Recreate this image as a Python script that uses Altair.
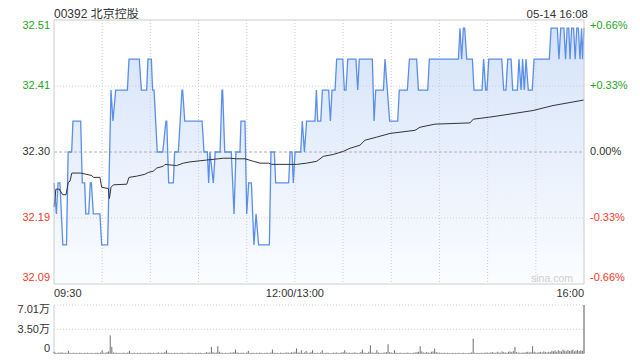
import altair as alt
import pandas as pd

# ---------------- data ----------------
prev_close = 32.30
price_t = [0, 1.5, 2.5, 3.7, 5.5, 7.8, 8.8, 11, 11.8, 16.6,
           17.6, 19.1, 19.8, 21.6, 22.6, 23.3, 24.5, 28.6, 29.7, 33.4,
           35.5, 36.7, 38.4, 45.7, 46.7, 53.1, 54.4, 57.7, 58.5, 60.6,
           61.4, 62.3, 64.3, 67.7, 69.7, 70.2, 71.4, 74.3, 75.1, 77.4,
           79.7, 80.1, 81.4, 92.2, 93.4, 95.5, 96.3, 97.1, 99.2, 100.4,
           103.4, 104.6, 105, 106.3, 110.4, 112.1, 113.3, 115.8, 116.4, 118.9,
           120, 121.2, 122.9, 124.5, 125.8, 127.4, 134.1, 135.1, 137.2, 138,
           146.1, 147, 148.2, 149, 150.1, 153.6, 154.6, 155.9, 157.3, 162.5,
           163.4, 164.2, 166.1, 167.1, 171, 172.1, 173.1, 175, 176, 179.8,
           180.8, 181.8, 182.9, 188, 189.1, 190.1, 198.2, 199.3, 200.3, 205.1,
           206.1, 209, 214, 215, 220, 221.3, 225.8, 226.9, 232.7, 233.7,
           251.8, 252.8, 253.8, 254.9, 255.7, 257, 260.5, 261.5, 266.5, 267.5,
           268.8, 269.6, 270.7, 278.8, 280, 281.4, 282.5, 284.6, 285.6, 288.5,
           289.5, 290.8, 291.8, 292.8, 293.9, 295.3, 297.8, 298.9, 308.4, 309.5,
           313.4, 314.4, 315.5, 317.5, 318.5, 319.5, 320.5, 321.3, 322.3, 323.5,
           324.5, 325.5, 326.5, 327.5, 328.5, 329.1, 330]
price_v = [32.25, 32.20, 32.25, 32.25, 32.15, 32.15, 32.30, 32.30, 32.35, 32.35,
           32.25, 32.25, 32.20, 32.20, 32.25, 32.25, 32.20, 32.20, 32.15, 32.15,
           32.40, 32.35, 32.40, 32.40, 32.45, 32.45, 32.40, 32.40, 32.45, 32.45,
           32.40, 32.40, 32.30, 32.30, 32.35, 32.35, 32.25, 32.25, 32.30, 32.30,
           32.40, 32.40, 32.35, 32.35, 32.30, 32.30, 32.25, 32.30, 32.25, 32.30,
           32.30, 32.40, 32.40, 32.30, 32.30, 32.20, 32.30, 32.30, 32.35, 32.35,
           32.20, 32.25, 32.25, 32.15, 32.20, 32.15, 32.15, 32.30, 32.30, 32.25,
           32.25, 32.30, 32.30, 32.25, 32.30, 32.30, 32.35, 32.30, 32.35, 32.35,
           32.40, 32.35, 32.35, 32.40, 32.40, 32.35, 32.40, 32.40, 32.45, 32.45,
           32.40, 32.40, 32.45, 32.45, 32.40, 32.45, 32.45, 32.35, 32.40, 32.40,
           32.45, 32.35, 32.35, 32.40, 32.40, 32.45, 32.45, 32.40, 32.40, 32.45,
           32.45, 32.50, 32.45, 32.50, 32.50, 32.45, 32.45, 32.40, 32.40, 32.45,
           32.40, 32.40, 32.45, 32.45, 32.40, 32.40, 32.45, 32.45, 32.40, 32.40,
           32.45, 32.40, 32.45, 32.40, 32.45, 32.40, 32.40, 32.45, 32.45, 32.50,
           32.50, 32.45, 32.50, 32.50, 32.45, 32.50, 32.50, 32.45, 32.50, 32.50,
           32.45, 32.50, 32.50, 32.45, 32.50, 32.45, 32.50]

avg_t = [0, 1.2, 3.3, 5.4, 7.5, 8.9, 10, 11.1, 16.6, 23.5,
         24.5, 28.6, 29.7, 33.8, 34.5, 35.5, 37, 45.3, 46.7, 51.5,
         56.6, 58.7, 61.8, 63.9, 68, 69.1, 76.3, 80.5, 84.6, 95,
         102.3, 105.4, 109.5, 113.7, 119, 124.1, 128.3, 133.5, 135.5, 151.1,
         157.3, 163.6, 167.7, 173.9, 180.1, 184.3, 190.5, 193.6, 200.9, 209.2,
         215.4, 224.8, 227.9, 237.2, 259, 261.1, 270.4, 280.8, 298.3, 310.7, 330]
avg_v = [32.211, 32.240, 32.240, 32.231, 32.231, 32.251, 32.253, 32.266, 32.266, 32.262,
         32.259, 32.259, 32.243, 32.241, 32.225, 32.243, 32.247, 32.248, 32.259, 32.261,
         32.264, 32.267, 32.269, 32.274, 32.277, 32.280, 32.278, 32.282, 32.284, 32.287,
         32.289, 32.290, 32.290, 32.289, 32.289, 32.285, 32.282, 32.282, 32.280, 32.280,
         32.282, 32.285, 32.293, 32.296, 32.301, 32.306, 32.311, 32.319, 32.324, 32.330,
         32.332, 32.335, 32.340, 32.345, 32.347, 32.353, 32.356, 32.360, 32.367, 32.375, 32.384]

# volume per minute, in 万 shares (minute 0 .. 330)
vol_wan = [
    0.25, 0.12, 0.08, 0.15, 0.10, 0.18, 0.08, 0.12, 0.10, 0.39, 0.10, 0.06, 0.12, 0.08, 0.10, 0.05, 0.12, 0.08, 0.06, 0.10, 0.08, 0.12, 0.05, 0.10, 0.08, 0.06, 0.10, 0.12, 0.08, 0.15,
    0.48, 0.12, 0.10, 0.20, 0.30, 2.62, 0.95, 0.15, 0.10, 0.12, 0.08, 0.10, 0.06, 0.12, 0.10, 0.08, 0.15, 0.38, 0.10, 0.08, 0.12, 0.06, 0.10, 0.08, 0.12, 0.05, 0.10, 0.08, 0.06, 0.12,
    0.10, 0.08, 0.12, 0.06, 0.10, 0.15, 0.08, 0.12, 0.10, 0.20, 0.48, 0.12, 0.08, 0.10, 0.06, 0.12, 0.08, 0.10, 0.05, 0.12, 0.10, 0.08, 0.06, 0.10, 0.12, 0.08, 0.10, 0.06, 0.12, 0.08,
    0.10, 0.12, 0.08, 0.06, 0.10, 0.20, 0.12, 0.15, 0.95, 0.20, 0.10, 0.15, 1.05, 0.25, 0.12, 0.10, 0.08, 0.12, 0.06, 0.10, 0.15, 0.12, 0.20, 0.57, 0.15, 0.10, 0.08, 0.12, 0.10, 0.06,
    0.15, 0.38, 0.10, 0.08, 0.12, 0.06, 0.10, 0.08, 0.12, 0.10, 0.06, 0.08, 0.12, 0.10, 0.08, 0.15, 0.57, 0.12, 0.08, 0.10, 0.06, 0.12, 0.10, 0.08, 0.12, 0.15, 0.10, 0.08, 0.20, 0.12,
    0.25, 0.72, 0.15, 0.12, 0.48, 0.10, 0.15, 0.38, 0.12, 0.10, 0.20, 0.48, 0.10, 0.08, 0.12, 0.06, 0.15, 0.48, 0.10, 0.08, 0.12, 0.10, 0.06, 0.08, 0.12, 0.10, 0.15, 0.08, 0.10, 0.12,
    0.20, 0.48, 0.15, 0.10, 0.12, 0.08, 0.10, 0.15, 0.12, 0.08, 0.10, 0.20, 0.57, 0.12, 0.10, 0.08, 0.25, 1.19, 0.15, 0.10, 0.12, 0.48, 0.15, 0.10, 0.08, 0.12, 0.15, 0.20, 1.34, 0.20,
    0.15, 0.10, 0.48, 0.12, 0.08, 0.10, 0.12, 0.06, 0.10, 0.08, 0.12, 0.10, 0.06, 0.08, 0.12, 0.15, 0.20, 0.25, 1.05, 0.30, 0.15, 0.12, 0.20, 0.15, 0.10, 0.25, 0.30, 0.72, 0.20, 0.15,
    0.12, 0.10, 0.08, 0.12, 0.06, 0.10, 0.08, 0.05, 0.10, 0.06, 0.08, 0.05, 0.10, 0.06, 0.08, 0.10, 0.06, 0.05, 0.08, 0.10, 0.15, 2.15, 0.12, 0.08, 0.10, 0.06, 0.12, 0.08, 0.10, 0.15,
    0.12, 0.10, 0.15, 0.20, 0.12, 0.10, 0.25, 0.15, 0.12, 0.30, 0.20, 0.15, 0.10, 0.25, 0.30, 0.20, 0.35, 0.95, 0.20, 0.15, 0.12, 0.10, 0.15, 0.12, 0.20, 0.25, 0.15, 0.20, 1.05, 0.25,
    0.15, 0.12, 0.20, 0.25, 0.15, 0.30, 0.20, 0.15, 0.25, 0.20, 0.40, 0.30, 0.45, 0.25, 0.50, 0.35, 0.30, 0.55, 0.40, 0.30, 0.50, 0.35, 0.45, 0.55, 0.30, 0.40, 0.50, 0.35, 0.45, 0.40,
    7.01,
]

pct_ticks = [-0.0066, -0.0033, 0.0, 0.0033, 0.0066]
price_labels = ["32.09", "32.19", "32.30", "32.41", "32.51"]
pct_labels = ["-0.66%", "-0.33%", "0.00%", "+0.33%", "+0.66%"]
vol_ticks = [0, 3.505, 7.01]
vol_labels = ["0", "3.50万", "7.01万"]
time_labels = ["09:30", "12:00/13:00", "16:00"]
time_ticks = [0, 150, 330]
grid_minutes = [30, 60, 90, 120, 150, 180, 210, 240, 270, 300]
title_text = "00392 北京控股"
date_text = "05-14 16:08"
watermark = "sina.com"

# ---------------- styling ----------------
W = 530
MAIN_H = 264
VOL_TOP, VOL_BOT = 285, 333.5
H = 334
FONT = "Liberation Sans, Arial, Noto Sans CJK SC"
GREEN = "#1ea51e"
RED = "#f03a2e"
DARK = "#333333"
GRID = "#cccccc"

LO = prev_close * (1 + pct_ticks[0])
HI = prev_close * (1 + pct_ticks[-1])
price_ticks = [prev_close * (1 + p) for p in pct_ticks]
tick_colors = [RED, RED, DARK, GREEN, GREEN]

xs = alt.Scale(domain=[0, 330], nice=False, zero=False)
ps = alt.Scale(domain=[LO, HI], range=[MAIN_H, 0], nice=False, zero=False)
vs = alt.Scale(domain=[0, 7.01], range=[VOL_BOT, VOL_TOP], nice=False, zero=False)

price_df = pd.DataFrame({"t": price_t, "p": price_v, "base": [LO] * len(price_t)})
avg_df = pd.DataFrame({"t": avg_t, "p": avg_v})
vol_df = pd.DataFrame({"t": list(range(len(vol_wan))), "v": vol_wan, "v0": [0.0] * len(vol_wan)})

layers = []

# area under price line
layers.append(
    alt.Chart(price_df).mark_area(
        color=alt.Gradient(
            gradient="linear",
            stops=[alt.GradientStop(color="#d5e3f9", offset=0),
                   alt.GradientStop(color="#fbfdff", offset=1)],
            x1=1, x2=1, y1=0, y2=1),
        interpolate="linear",
    ).encode(
        x=alt.X("t:Q", scale=xs, axis=None),
        y=alt.Y("p:Q", scale=ps, axis=None),
        y2="base:Q",
    )
)

# vertical gridlines (main panel)
layers.append(
    alt.Chart(pd.DataFrame({"t": grid_minutes})).mark_rule(
        color=GRID, strokeDash=[1, 2], strokeWidth=1
    ).encode(x=alt.X("t:Q", scale=xs, axis=None), y=alt.value(0), y2=alt.value(MAIN_H))
)

# horizontal gridlines (main panel)
layers.append(
    alt.Chart(pd.DataFrame({"p": [price_ticks[1], price_ticks[3]]})).mark_rule(
        color=GRID, strokeDash=[1, 2], strokeWidth=1
    ).encode(y=alt.Y("p:Q", scale=ps, axis=None), x=alt.value(0), x2=alt.value(W))
)
layers.append(
    alt.Chart(pd.DataFrame({"p": [price_ticks[2]]})).mark_rule(
        color="#b0b0b0", strokeDash=[3, 2], strokeWidth=1
    ).encode(y=alt.Y("p:Q", scale=ps, axis=None), x=alt.value(0), x2=alt.value(W))
)

# price line
layers.append(
    alt.Chart(price_df).mark_line(color="#5a8ee9", strokeWidth=1.3, interpolate="linear").encode(
        x=alt.X("t:Q", scale=xs, axis=None),
        y=alt.Y("p:Q", scale=ps, axis=None),
    )
)

# average line
layers.append(
    alt.Chart(avg_df).mark_line(color="#333333", strokeWidth=1).encode(
        x=alt.X("t:Q", scale=xs, axis=None),
        y=alt.Y("p:Q", scale=ps, axis=None),
    )
)

# main frame
layers.append(
    alt.Chart(pd.DataFrame({"a": [0]})).mark_rect(filled=False, stroke=GRID, strokeWidth=1).encode(
        x=alt.value(0), x2=alt.value(W), y=alt.value(0), y2=alt.value(MAIN_H)
    )
)

# volume gridlines
layers.append(
    alt.Chart(pd.DataFrame({"v": [vol_ticks[1], vol_ticks[2]]})).mark_rule(
        color=GRID, strokeDash=[1, 2], strokeWidth=1
    ).encode(y=alt.Y("v:Q", scale=vs, axis=None), x=alt.value(0), x2=alt.value(W))
)
# volume frame (left, right, bottom)
layers.append(
    alt.Chart(pd.DataFrame({"a": [0]})).mark_rule(color=GRID, strokeWidth=1).encode(
        x=alt.value(0), y=alt.value(VOL_TOP), y2=alt.value(VOL_BOT)
    )
)
layers.append(
    alt.Chart(pd.DataFrame({"a": [0]})).mark_rule(color=GRID, strokeWidth=1).encode(
        x=alt.value(W), y=alt.value(VOL_TOP), y2=alt.value(VOL_BOT)
    )
)
layers.append(
    alt.Chart(pd.DataFrame({"a": [0]})).mark_rule(color=GRID, strokeWidth=1).encode(
        x=alt.value(0), x2=alt.value(W), y=alt.value(VOL_BOT)
    )
)

# volume bars
layers.append(
    alt.Chart(vol_df).mark_rule(color="#707070", strokeWidth=1).encode(
        x=alt.X("t:Q", scale=xs, axis=None),
        y=alt.Y("v:Q", scale=vs, axis=None),
        y2="v0:Q",
    )
)


def text_layer(label, x, y, align, color, dy=0, size=11, baseline="middle"):
    return alt.Chart(pd.DataFrame({"lbl": [label]})).mark_text(
        align=align, baseline=baseline, dy=dy, fontSize=size, font=FONT, color=color
    ).encode(x=x, y=y, text="lbl:N")


def scaled_text(label, value, scale, x, align, color, dy=0, size=11):
    return alt.Chart(pd.DataFrame({"lbl": [label], "val": [value]})).mark_text(
        align=align, baseline="middle", dy=dy, fontSize=size, font=FONT, color=color
    ).encode(x=x, y=alt.Y("val:Q", scale=scale, axis=None), text="lbl:N")


# price / percent labels
for i in range(5):
    dy = 6 if i == 4 else (-6 if i == 0 else -0.5)
    layers.append(scaled_text(price_labels[i], price_ticks[i], ps, alt.value(-4), "right", tick_colors[i], dy=dy))
    layers.append(scaled_text(pct_labels[i], price_ticks[i], ps, alt.value(W + 6), "left", tick_colors[i], dy=dy))

# volume labels
for i in range(3):
    dy = 5 if i == 2 else (-5 if i == 0 else 0.5)
    layers.append(scaled_text(vol_labels[i], vol_ticks[i], vs, alt.value(-4), "right", DARK, dy=dy))

# time labels
aligns = ["left", "center", "right"]
for i in range(3):
    layers.append(
        alt.Chart(pd.DataFrame({"lbl": [time_labels[i]], "t": [time_ticks[i]]})).mark_text(
            align=aligns[i], baseline="middle", fontSize=11, font=FONT, color=DARK
        ).encode(x=alt.X("t:Q", scale=xs, axis=None), y=alt.value(273.5), text="lbl:N")
    )

# title, date, watermark
layers.append(text_layer(title_text, alt.value(0), alt.value(-2), "left", DARK, size=12, baseline="alphabetic"))
layers.append(text_layer(date_text, alt.value(534), alt.value(-2), "right", DARK, size=11.5, baseline="alphabetic"))
layers.append(text_layer(watermark, alt.value(519), alt.value(259), "right", "#cfcfcf", size=10.5))

chart = alt.layer(*layers).resolve_scale(y="independent").properties(
    width=W, height=H,
    autosize=alt.AutoSizeParams(type="none"),
    padding={"left": 46, "top": 12, "right": 48, "bottom": 6},
    background="white",
).configure_view(strokeWidth=0)

chart.save("out.html", embed_options={"renderer": "svg", "actions": False})
